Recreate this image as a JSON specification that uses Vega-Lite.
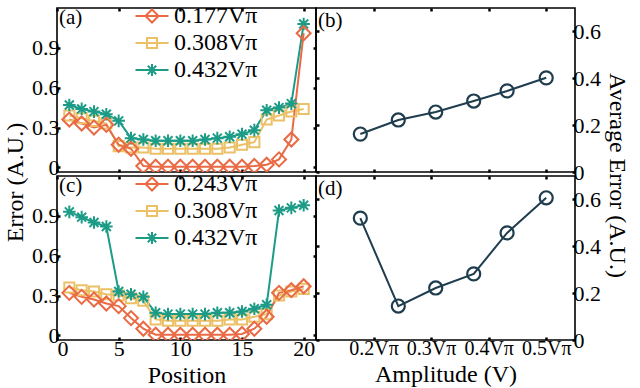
{
  "$schema": "https://vega.github.io/schema/vega-lite/v6.json",
  "padding": {"left": 2, "top": 3, "right": 3, "bottom": 2},
  "background": "white",
  "bounds": "flush",
  "columns": 2,
  "spacing": {"row": 4, "column": 0},
  "config": {
    "font": "Liberation Serif, Times New Roman, serif",
    "view": {"stroke": "black", "strokeWidth": 1.6},
    "axis": {"labelFont": "Liberation Serif, Times New Roman, serif", "labelFontSize": 22, "titleFont": "Liberation Serif, Times New Roman, serif", "titleFontSize": 24, "titleFontWeight": "normal", "labelColor": "black", "titleColor": "black", "tickColor": "black", "tickSize": -3, "tickWidth": 2.5, "domain": false, "grid": false, "labelPadding": 1},
    "legend": {"labelFont": "Liberation Serif, Times New Roman, serif", "labelFontSize": 24, "labelColor": "black"},
    "title": {"font": "Liberation Serif, Times New Roman, serif", "fontSize": 21, "fontWeight": "normal", "anchor": "start", "frame": "group", "orient": "top", "offset": -24, "baseline": "bottom", "dx": 2, "color": "black"}
  },
  "datasets": {
    "left": [
      {"p":"a","s":"0.308","x":1,"e":0.39},{"p":"a","s":"0.308","x":2,"e":0.37},{"p":"a","s":"0.308","x":3,"e":0.35},{"p":"a","s":"0.308","x":4,"e":0.33},{"p":"a","s":"0.308","x":5,"e":0.16},{"p":"a","s":"0.308","x":6,"e":0.15},{"p":"a","s":"0.308","x":7,"e":0.15},{"p":"a","s":"0.308","x":8,"e":0.14},{"p":"a","s":"0.308","x":9,"e":0.14},{"p":"a","s":"0.308","x":10,"e":0.14},{"p":"a","s":"0.308","x":11,"e":0.14},{"p":"a","s":"0.308","x":12,"e":0.14},{"p":"a","s":"0.308","x":13,"e":0.14},{"p":"a","s":"0.308","x":14,"e":0.15},{"p":"a","s":"0.308","x":15,"e":0.17},{"p":"a","s":"0.308","x":16,"e":0.19},{"p":"a","s":"0.308","x":17,"e":0.36},{"p":"a","s":"0.308","x":18,"e":0.39},{"p":"a","s":"0.308","x":19,"e":0.42},{"p":"a","s":"0.308","x":20,"e":0.44},
      {"p":"a","s":"0.432","x":1,"e":0.47},{"p":"a","s":"0.432","x":2,"e":0.44},{"p":"a","s":"0.432","x":3,"e":0.42},{"p":"a","s":"0.432","x":4,"e":0.40},{"p":"a","s":"0.432","x":5,"e":0.35},{"p":"a","s":"0.432","x":6,"e":0.22},{"p":"a","s":"0.432","x":7,"e":0.21},{"p":"a","s":"0.432","x":8,"e":0.20},{"p":"a","s":"0.432","x":9,"e":0.20},{"p":"a","s":"0.432","x":10,"e":0.20},{"p":"a","s":"0.432","x":11,"e":0.20},{"p":"a","s":"0.432","x":12,"e":0.21},{"p":"a","s":"0.432","x":13,"e":0.22},{"p":"a","s":"0.432","x":14,"e":0.23},{"p":"a","s":"0.432","x":15,"e":0.25},{"p":"a","s":"0.432","x":16,"e":0.28},{"p":"a","s":"0.432","x":17,"e":0.43},{"p":"a","s":"0.432","x":18,"e":0.45},{"p":"a","s":"0.432","x":19,"e":0.48},{"p":"a","s":"0.432","x":20,"e":1.08},
      {"p":"a","s":"0.177","x":1,"e":0.36},{"p":"a","s":"0.177","x":2,"e":0.33},{"p":"a","s":"0.177","x":3,"e":0.30},{"p":"a","s":"0.177","x":4,"e":0.32},{"p":"a","s":"0.177","x":5,"e":0.17},{"p":"a","s":"0.177","x":6,"e":0.14},{"p":"a","s":"0.177","x":7,"e":0.01},{"p":"a","s":"0.177","x":8,"e":0.005},{"p":"a","s":"0.177","x":9,"e":0.005},{"p":"a","s":"0.177","x":10,"e":0.005},{"p":"a","s":"0.177","x":11,"e":0.005},{"p":"a","s":"0.177","x":12,"e":0.005},{"p":"a","s":"0.177","x":13,"e":0.005},{"p":"a","s":"0.177","x":14,"e":0.005},{"p":"a","s":"0.177","x":15,"e":0.005},{"p":"a","s":"0.177","x":16,"e":0.01},{"p":"a","s":"0.177","x":17,"e":0.02},{"p":"a","s":"0.177","x":18,"e":0.06},{"p":"a","s":"0.177","x":19,"e":0.21},{"p":"a","s":"0.177","x":20,"e":1.01},
      {"p":"c","s":"0.308","x":1,"e":0.36},{"p":"c","s":"0.308","x":2,"e":0.34},{"p":"c","s":"0.308","x":3,"e":0.33},{"p":"c","s":"0.308","x":4,"e":0.31},{"p":"c","s":"0.308","x":5,"e":0.30},{"p":"c","s":"0.308","x":6,"e":0.28},{"p":"c","s":"0.308","x":7,"e":0.26},{"p":"c","s":"0.308","x":8,"e":0.12},{"p":"c","s":"0.308","x":9,"e":0.11},{"p":"c","s":"0.308","x":10,"e":0.11},{"p":"c","s":"0.308","x":11,"e":0.11},{"p":"c","s":"0.308","x":12,"e":0.11},{"p":"c","s":"0.308","x":13,"e":0.11},{"p":"c","s":"0.308","x":14,"e":0.12},{"p":"c","s":"0.308","x":15,"e":0.12},{"p":"c","s":"0.308","x":16,"e":0.14},{"p":"c","s":"0.308","x":17,"e":0.16},{"p":"c","s":"0.308","x":18,"e":0.30},{"p":"c","s":"0.308","x":19,"e":0.33},{"p":"c","s":"0.308","x":20,"e":0.35},
      {"p":"c","s":"0.432","x":1,"e":0.93},{"p":"c","s":"0.432","x":2,"e":0.89},{"p":"c","s":"0.432","x":3,"e":0.85},{"p":"c","s":"0.432","x":4,"e":0.82},{"p":"c","s":"0.432","x":5,"e":0.33},{"p":"c","s":"0.432","x":6,"e":0.31},{"p":"c","s":"0.432","x":7,"e":0.29},{"p":"c","s":"0.432","x":8,"e":0.17},{"p":"c","s":"0.432","x":9,"e":0.16},{"p":"c","s":"0.432","x":10,"e":0.16},{"p":"c","s":"0.432","x":11,"e":0.16},{"p":"c","s":"0.432","x":12,"e":0.16},{"p":"c","s":"0.432","x":13,"e":0.17},{"p":"c","s":"0.432","x":14,"e":0.17},{"p":"c","s":"0.432","x":15,"e":0.18},{"p":"c","s":"0.432","x":16,"e":0.20},{"p":"c","s":"0.432","x":17,"e":0.23},{"p":"c","s":"0.432","x":18,"e":0.94},{"p":"c","s":"0.432","x":19,"e":0.96},{"p":"c","s":"0.432","x":20,"e":0.98},
      {"p":"c","s":"0.243","x":1,"e":0.32},{"p":"c","s":"0.243","x":2,"e":0.29},{"p":"c","s":"0.243","x":3,"e":0.27},{"p":"c","s":"0.243","x":4,"e":0.24},{"p":"c","s":"0.243","x":5,"e":0.22},{"p":"c","s":"0.243","x":6,"e":0.13},{"p":"c","s":"0.243","x":7,"e":0.05},{"p":"c","s":"0.243","x":8,"e":0.005},{"p":"c","s":"0.243","x":9,"e":0.005},{"p":"c","s":"0.243","x":10,"e":0.005},{"p":"c","s":"0.243","x":11,"e":0.005},{"p":"c","s":"0.243","x":12,"e":0.005},{"p":"c","s":"0.243","x":13,"e":0.005},{"p":"c","s":"0.243","x":14,"e":0.005},{"p":"c","s":"0.243","x":15,"e":0.01},{"p":"c","s":"0.243","x":16,"e":0.05},{"p":"c","s":"0.243","x":17,"e":0.14},{"p":"c","s":"0.243","x":18,"e":0.32},{"p":"c","s":"0.243","x":19,"e":0.34},{"p":"c","s":"0.243","x":20,"e":0.37}
    ],
    "right": [
      {"p":"b","amp":0.177,"e":0.162},{"p":"b","amp":0.243,"e":0.222},{"p":"b","amp":0.308,"e":0.256},{"p":"b","amp":0.374,"e":0.303},{"p":"b","amp":0.432,"e":0.346},{"p":"b","amp":0.5,"e":0.402},
      {"p":"d","amp":0.177,"e":0.52},{"p":"d","amp":0.243,"e":0.145},{"p":"d","amp":0.308,"e":0.222},{"p":"d","amp":0.374,"e":0.282},{"p":"d","amp":0.432,"e":0.457},{"p":"d","amp":0.5,"e":0.607}
    ]
  },
  "concat": [
    {
      "width": 259, "height": 164,
      "data": {"name": "left"},
      "transform": [{"filter": "datum.p == 'a'"}],
      "title": {"text": "(a)"},
      "layer": [
        {"transform": [{"filter": "datum.x > 100"}],
         "mark": {"type": "point", "filled": false, "strokeWidth": 2},
         "encoding": {
           "x": {"field": "x", "type": "quantitative", "scale": {"domain": [0, 21], "nice": false, "zero": false}, "axis": null},
           "y": {"field": "e", "type": "quantitative", "scale": {"domain": [-0.035, 1.2], "nice": false, "zero": false}, "axis": null},
           "color": {"field": "s", "type": "nominal", "sort": null, "scale": {"domain": ["0.177","0.308","0.432"], "range": ["#E96A44","#EBC066","#1C9C87"]},
             "legend": {"orient": "none", "legendX": 83, "legendY": -4, "title": null, "labelFont": "Liberation Serif, Times New Roman, serif", "labelFontSize": 24, "labelExpr": "datum.label + 'Vπ'", "symbolSize": 400, "labelOffset": 10, "rowPadding": 3, "symbolStrokeWidth": 2, "symbolOpacity": 1}},
           "shape": {"field": "s", "type": "nominal", "sort": null, "scale": {"domain": ["0.177","0.308","0.432"], "range": ["M-1.65,0L1.65,0M-0.65,0L0,-0.65L0.65,0L0,0.65Z","M-1.65,0L1.65,0M-0.5,-0.5L0.5,-0.5L0.5,0.5L-0.5,0.5Z","M-1.65,0L1.65,0M0,-0.6L0,0.6M-0.42,-0.42L0.42,0.42M-0.42,0.42L0.42,-0.42"]},
             "legend": {"orient": "none", "legendX": 83, "legendY": -4, "title": null, "labelFont": "Liberation Serif, Times New Roman, serif", "labelFontSize": 24, "labelExpr": "datum.label + 'Vπ'", "symbolSize": 400, "labelOffset": 10, "rowPadding": 3, "symbolStrokeWidth": 2, "symbolOpacity": 1}}
         }},
        {"mark": {"type": "line", "strokeWidth": 2, "clip": true},
         "encoding": {
           "x": {"field": "x", "type": "quantitative", "axis": {"orient": "bottom", "values": [0,5,10,15,20], "labels": false, "title": null}},
           "y": {"field": "e", "type": "quantitative", "axis": {"orient": "left", "values": [0,0.3,0.6,0.9], "format": "~g", "labelFont": "Liberation Serif, Times New Roman, serif", "titleFont": "Liberation Serif, Times New Roman, serif", "titleFontWeight": "normal", "title": "Error (A.U.)", "titleY": 174}},
           "color": {"field": "s", "type": "nominal", "sort": null, "legend": null}
         }},
        {"mark": {"type": "point", "filled": false, "strokeWidth": 2, "size": 196, "clip": true, "opacity": 1},
         "encoding": {
           "x": {"field": "x", "type": "quantitative", "axis": {"orient": "top", "values": [0,5,10,15,20], "labels": false, "title": null}},
           "y": {"field": "e", "type": "quantitative", "axis": {"orient": "right", "values": [0,0.3,0.6,0.9], "labels": false, "title": null}},
           "color": {"field": "s", "type": "nominal", "sort": null, "legend": null},
           "shape": {"condition": [{"test": "datum.s == '0.177'", "value": "M-1,0L0,-1L1,0L0,1Z"}, {"test": "datum.s == '0.308'", "value": "M-0.72,-0.72L0.72,-0.72L0.72,0.72L-0.72,0.72Z"}], "value": "M0,-0.9L0,0.9M-0.9,0L0.9,0M-0.64,-0.64L0.64,0.64M-0.64,0.64L0.64,-0.64"}
         }}
      ],
      "resolve": {"axis": {"x": "independent", "y": "independent"}}
    },
    {
      "width": 259, "height": 164,
      "data": {"name": "right"},
      "transform": [{"filter": "datum.p == 'b'"}],
      "title": {"text": "(b)"},
      "layer": [
        {"mark": {"type": "line", "color": "#1F3D4E", "strokeWidth": 2},
         "encoding": {
           "x": {"field": "amp", "type": "quantitative", "scale": {"domain": [0.1, 0.55], "nice": false, "zero": false}, "axis": {"orient": "bottom", "values": [0.2,0.3,0.4,0.5], "labels": false, "title": null}},
           "y": {"field": "e", "type": "quantitative", "scale": {"domain": [0, 0.7], "nice": false, "zero": false}, "axis": {"orient": "right", "values": [0,0.2,0.4,0.6], "format": "~g", "labelFont": "Liberation Serif, Times New Roman, serif", "titleFont": "Liberation Serif, Times New Roman, serif", "titleFontWeight": "normal", "title": "Average Error (A.U.)", "titleY": 167}}
         }},
        {"mark": {"type": "point", "filled": false, "shape": "circle", "color": "#1F3D4E", "strokeWidth": 2.2, "size": 170, "opacity": 1},
         "encoding": {
           "x": {"field": "amp", "type": "quantitative", "axis": {"orient": "top", "values": [0.2,0.3,0.4,0.5], "labels": false, "title": null}},
           "y": {"field": "e", "type": "quantitative", "axis": {"orient": "left", "values": [0,0.2,0.4,0.6], "labels": false, "title": null}}
         }}
      ],
      "resolve": {"axis": {"x": "independent", "y": "independent"}}
    },
    {
      "width": 259, "height": 164,
      "data": {"name": "left"},
      "transform": [{"filter": "datum.p == 'c'"}],
      "title": {"text": "(c)"},
      "layer": [
        {"transform": [{"filter": "datum.x > 100"}],
         "mark": {"type": "point", "filled": false, "strokeWidth": 2},
         "encoding": {
           "x": {"field": "x", "type": "quantitative", "scale": {"domain": [0, 21], "nice": false, "zero": false}, "axis": null},
           "y": {"field": "e", "type": "quantitative", "scale": {"domain": [-0.035, 1.2], "nice": false, "zero": false}, "axis": null},
           "color": {"field": "s", "type": "nominal", "sort": null, "scale": {"domain": ["0.243","0.308","0.432"], "range": ["#E96A44","#EBC066","#1C9C87"]},
             "legend": {"orient": "none", "legendX": 83, "legendY": -4, "title": null, "labelFont": "Liberation Serif, Times New Roman, serif", "labelFontSize": 24, "labelExpr": "datum.label + 'Vπ'", "symbolSize": 400, "labelOffset": 10, "rowPadding": 3, "symbolStrokeWidth": 2, "symbolOpacity": 1}},
           "shape": {"field": "s", "type": "nominal", "sort": null, "scale": {"domain": ["0.243","0.308","0.432"], "range": ["M-1.65,0L1.65,0M-0.65,0L0,-0.65L0.65,0L0,0.65Z","M-1.65,0L1.65,0M-0.5,-0.5L0.5,-0.5L0.5,0.5L-0.5,0.5Z","M-1.65,0L1.65,0M0,-0.6L0,0.6M-0.42,-0.42L0.42,0.42M-0.42,0.42L0.42,-0.42"]},
             "legend": {"orient": "none", "legendX": 83, "legendY": -4, "title": null, "labelFont": "Liberation Serif, Times New Roman, serif", "labelFontSize": 24, "labelExpr": "datum.label + 'Vπ'", "symbolSize": 400, "labelOffset": 10, "rowPadding": 3, "symbolStrokeWidth": 2, "symbolOpacity": 1}}
         }},
        {"mark": {"type": "line", "strokeWidth": 2, "clip": true},
         "encoding": {
           "x": {"field": "x", "type": "quantitative", "axis": {"orient": "bottom", "values": [0,5,10,15,20], "labelFont": "Liberation Serif, Times New Roman, serif", "titleFont": "Liberation Serif, Times New Roman, serif", "titleFontWeight": "normal", "title": "Position"}},
           "y": {"field": "e", "type": "quantitative", "axis": {"orient": "left", "values": [0,0.3,0.6,0.9], "format": "~g", "labelFont": "Liberation Serif, Times New Roman, serif", "title": null}},
           "color": {"field": "s", "type": "nominal", "sort": null, "legend": null}
         }},
        {"mark": {"type": "point", "filled": false, "strokeWidth": 2, "size": 196, "clip": true, "opacity": 1},
         "encoding": {
           "x": {"field": "x", "type": "quantitative", "axis": {"orient": "top", "values": [0,5,10,15,20], "labels": false, "title": null}},
           "y": {"field": "e", "type": "quantitative", "axis": {"orient": "right", "values": [0,0.3,0.6,0.9], "labels": false, "title": null}},
           "color": {"field": "s", "type": "nominal", "sort": null, "legend": null},
           "shape": {"condition": [{"test": "datum.s == '0.243'", "value": "M-1,0L0,-1L1,0L0,1Z"}, {"test": "datum.s == '0.308'", "value": "M-0.72,-0.72L0.72,-0.72L0.72,0.72L-0.72,0.72Z"}], "value": "M0,-0.9L0,0.9M-0.9,0L0.9,0M-0.64,-0.64L0.64,0.64M-0.64,0.64L0.64,-0.64"}
         }}
      ],
      "resolve": {"axis": {"x": "independent", "y": "independent"}}
    },
    {
      "width": 259, "height": 164,
      "data": {"name": "right"},
      "transform": [{"filter": "datum.p == 'd'"}],
      "title": {"text": "(d)"},
      "layer": [
        {"mark": {"type": "line", "color": "#1F3D4E", "strokeWidth": 2},
         "encoding": {
           "x": {"field": "amp", "type": "quantitative", "scale": {"domain": [0.1, 0.55], "nice": false, "zero": false}, "axis": {"orient": "bottom", "values": [0.2,0.3,0.4,0.5], "labelFont": "Liberation Serif, Times New Roman, serif", "labelFontSize": 20, "titleFont": "Liberation Serif, Times New Roman, serif", "titleFontWeight": "normal", "labelExpr": "format(datum.value, '.1f') + 'Vπ'", "title": "Amplitude (V)"}},
           "y": {"field": "e", "type": "quantitative", "scale": {"domain": [0, 0.7], "nice": false, "zero": false}, "axis": {"orient": "right", "values": [0,0.2,0.4,0.6], "format": "~g", "labelFont": "Liberation Serif, Times New Roman, serif", "title": null}}
         }},
        {"mark": {"type": "point", "filled": false, "shape": "circle", "color": "#1F3D4E", "strokeWidth": 2.2, "size": 170, "opacity": 1},
         "encoding": {
           "x": {"field": "amp", "type": "quantitative", "axis": {"orient": "top", "values": [0.2,0.3,0.4,0.5], "labels": false, "title": null}},
           "y": {"field": "e", "type": "quantitative", "axis": {"orient": "left", "values": [0,0.2,0.4,0.6], "labels": false, "title": null}}
         }}
      ],
      "resolve": {"axis": {"x": "independent", "y": "independent"}}
    }
  ],
  "resolve": {"scale": {"color": "independent", "shape": "independent"}, "legend": {"color": "independent", "shape": "independent"}}
}
